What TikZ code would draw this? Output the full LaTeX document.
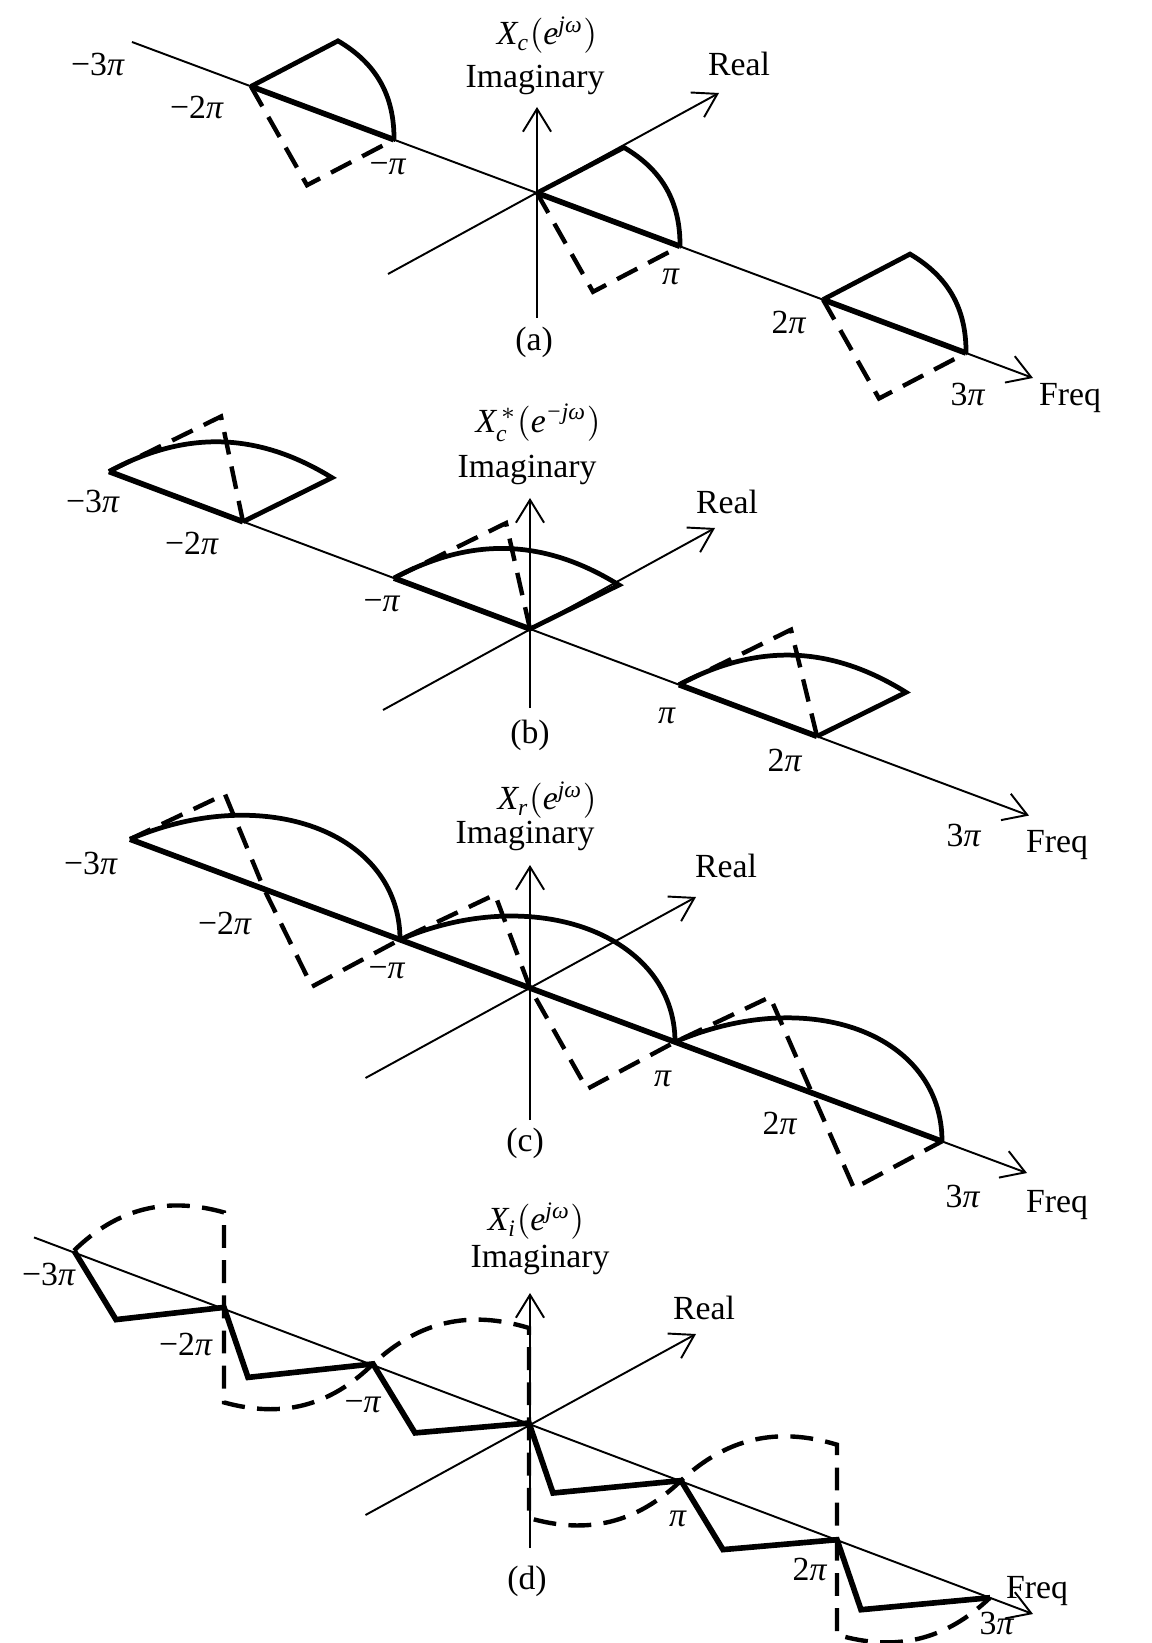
\documentclass[tikz,border=0pt]{standalone}
\usepackage{amsmath}
\usepackage{fontspec}
\setmainfont{Liberation Serif}
\usetikzlibrary{arrows.meta,calc}
\newcommand{\lab}{\fontsize{9.6}{11}\selectfont}
\tikzset{
 every node/.append style={font=\lab,inner sep=0pt},
 axis/.style={draw=black,line width=.55pt},
 axisarrow/.style={axis,-{Straight Barb[length=6.5pt,width=8pt]}},
 thickpart/.style={draw=black,line width=1.6pt},
 arcpart/.style={draw=black,line width=1.35pt},
 dashpart/.style={draw=black,line width=1.25pt,dash pattern=on 6.5pt off 3.5pt},
}
\begin{document}
\begin{tikzpicture}[x=.01cm,y=-.01cm]

\useasboundingbox (0,0) rectangle (1151,1643);

% (a) spectrum X_c
\coordinate (am2) at (251,86.4);
\coordinate (am1) at (394,139.7);
\coordinate (a0) at (537,193);
\coordinate (a1) at (680,246.3);
\coordinate (a2) at (823,299.6);
\coordinate (a3) at (966,353);
\draw[axisarrow] (132,42) -- (1033,378);
\draw[axisarrow] (388,274) -- (719,93);
\draw[axisarrow] (537,318) -- (537,107);
\draw[thickpart] (am2) -- (am1);
\draw[thickpart] (a0) -- (a1);
\draw[thickpart] (a2) -- (a3);
\draw[arcpart] (am2) -- ++(87,-45.5) to[bend left=30] (am1);
\draw[arcpart] (a0) -- ++(87,-45.5) to[bend left=30] (a1);
\draw[arcpart] (a2) -- ++(87,-45.5) to[bend left=30] (a3);
\draw[dashpart] (am2) -- ($(am1)+(-87,45.5)$) -- (am1);
\draw[dashpart] (a0) -- ($(a1)+(-87,45.5)$) -- (a1);
\draw[dashpart] (a2) -- ($(a3)+(-87,45.5)$) -- (a3);
\node (xa) at (547,35) {$\textit{X}_{\textit{c}}(\textit{e}^{\textit{jω}})$};
\node (ima) at (535,80) {Imaginary};
\node (rea) at (739,64) {Real};
\node (fra) at (1070,398) {Freq};
\node (p3a) at (968,394) {3\textit{π}};
\node (p2a) at (789,322) {2\textit{π}};
\node (p1a) at (671,277) {\textit{π}};
\node (n1a) at (388,167) {−\textit{π}};
\node (n2a) at (197,107) {−2\textit{π}};
\node (n3a) at (98,64) {−3\textit{π}};
\node (la) at (534,342) {(a)};

% (b) conjugate, mirrored
\coordinate (bm3) at (109,471.5);
\coordinate (bm2) at (243,521.7);
\coordinate (bm1) at (394,578.1);
\coordinate (b0) at (530,629);
\coordinate (b1) at (679,684.7);
\coordinate (b2) at (817,736.3);
\draw[axisarrow] (bm3) -- (1029,815.6);
\draw[axisarrow] (383,710) -- (715,528);
\draw[axisarrow] (530,708) -- (530,498);
\draw[thickpart] (bm3) -- (bm2);
\draw[thickpart] (bm1) -- (b0);
\draw[thickpart] (b1) -- (b2);
\draw[arcpart] (bm3) to[bend left=30] ($(bm2)+(89,-44)$) -- (bm2);
\draw[arcpart] (bm1) to[bend left=30] ($(b0)+(89,-44)$) -- (b0);
\draw[arcpart] (b1) to[bend left=30] ($(b2)+(89,-44)$) -- (b2);
\draw[dashpart] (bm3) -- ++(112,-55) -- (bm2);
\draw[dashpart] (bm1) -- ++(112,-55) -- (b0);
\draw[dashpart] (b1) -- ++(112,-55) -- (b2);
\node (xb) at (538,423) {$\textit{X}_{\textit{c}}^{\,*}(\textit{e}^{\textit{−jω}})$};
\node (imb) at (527,470) {Imaginary};
\node (reb) at (727,502) {Real};
\node (frb) at (1057,845) {Freq};
\node (p3b) at (964,835) {3\textit{π}};
\node (p2b) at (785,760) {2\textit{π}};
\node (p1b) at (667,716) {\textit{π}};
\node (n1b) at (382,604) {−\textit{π}};
\node (n2b) at (192,543) {−2\textit{π}};
\node (n3b) at (93,501) {−3\textit{π}};
\node (lb) at (530,735) {(b)};

% (c) real part
\coordinate (cm3) at (130,839.2);
\coordinate (cm2) at (264,889);
\coordinate (cm1) at (400,939.6);
\coordinate (c0) at (530,988);
\coordinate (c1) at (675,1042);
\coordinate (c2) at (812,1093);
\coordinate (c3) at (942,1141.3);
\draw[axisarrow] (cm3) -- (1027,1173);
\draw[axisarrow] (365.5,1078) -- (696,897);
\draw[axisarrow] (530,1120) -- (530,865);
\draw[thickpart] (cm3) -- (c3);
\draw[arcpart] (cm3) .. controls +(135,-57.5) and +(0,-107) .. (cm1);
\draw[arcpart] (cm1) .. controls +(135,-57.5) and +(0,-107) .. (c1);
\draw[arcpart] (c1) .. controls +(135,-57.5) and +(0,-107) .. (c3);
\draw[dashpart] (cm3) -- ++(95,-45) -- (cm2) -- ($(cm1)+(-88,47)$) -- (cm1)
  -- ++(95,-45) -- (c0) -- ($(c1)+(-88,47)$) -- (c1)
  -- ++(95,-45) -- (c2) -- ($(c3)+(-88,47)$) -- (c3);
\node (xc) at (547,800) {$\textit{X}_{\textit{r}}(\textit{e}^{\textit{jω}})$};
\node (imc) at (525,836) {Imaginary};
\node (rec) at (726,866) {Real};
\node (frc) at (1057,1205) {Freq};
\node (p3c) at (963,1196) {3\textit{π}};
\node (p2c) at (780,1123) {2\textit{π}};
\node (p1c) at (663,1079) {\textit{π}};
\node (n1c) at (387,971) {−\textit{π}};
\node (n2c) at (225,923) {−2\textit{π}};
\node (n3c) at (91,863) {−3\textit{π}};
\node (lc) at (525,1143) {(c)};

% (d) imaginary part
\coordinate (dm3) at (74,1250.6);
\coordinate (dm2) at (224,1307.4);
\coordinate (dm1) at (373,1363.9);
\coordinate (d0) at (529,1423);
\coordinate (d1) at (681,1480.6);
\coordinate (d2) at (837,1539.7);
\coordinate (d3) at (990,1597.7);
\draw[axisarrow] (34,1237.4) -- (1033,1614);
\draw[axisarrow] (365.5,1515) -- (696,1334);
\draw[axisarrow] (530,1548) -- (530,1293);
\draw[thickpart] (dm3) -- +(42,69) -- (dm2) -- +(24,70) -- (dm1) -- +(42,69) -- (d0)
  -- +(24,70) -- (d1) -- +(42,69) -- (d2) -- +(24,70) -- (d3);
\draw[dashpart] (dm3) to[bend left=30] ($(dm2)+(0,-95)$) -- ($(dm2)+(0,95)$) to[bend right=30] (dm1)
  to[bend left=30] ($(d0)+(0,-95)$) -- ($(d0)+(0,95)$) to[bend right=30] (d1)
  to[bend left=30] ($(d2)+(0,-95)$) -- ($(d2)+(0,95)$) to[bend right=30] (d3);
\node (xd) at (536,1221) {$\textit{X}_{\textit{i}}(\textit{e}^{\textit{jω}})$};
\node (imd) at (540,1260) {Imaginary};
\node (red) at (704,1308) {Real};
\node (frd) at (1037,1591) {Freq};
\node (p3d) at (997,1623) {3\textit{π}};
\node (p2d) at (810,1569) {2\textit{π}};
\node (p1d) at (678,1519) {\textit{π}};
\node (n1d) at (363,1405) {−\textit{π}};
\node (n2d) at (186,1344) {−2\textit{π}};
\node (n3d) at (49,1274) {−3\textit{π}};
\node (ld) at (527,1581) {(d)};

\end{tikzpicture}
\end{document}
